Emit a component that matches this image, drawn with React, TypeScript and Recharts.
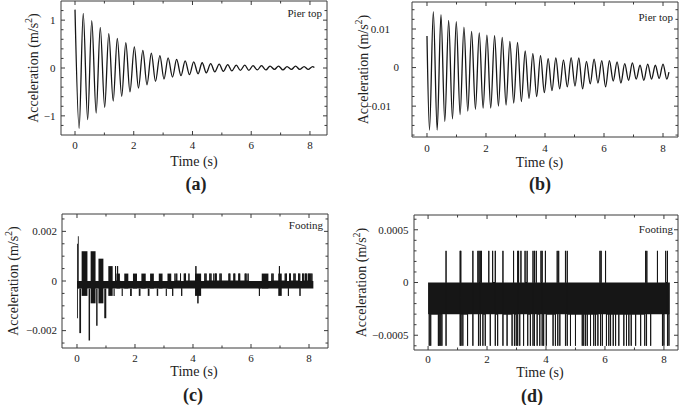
import React from 'react';
import { ComposedChart, Line, XAxis, YAxis, ReferenceArea } from 'recharts';

// ---------- values ----------
const timeTicks = [0, 1, 2, 3, 4, 5, 6, 7, 8];
const timeMajor = [0, 2, 4, 6, 8];
const timeLabels = ['0', '2', '4', '6', '8'];

// (a) pier top, peaks and troughs of the decaying response
const aTime = [0, 0.14, 0.28, 0.43, 0.57, 0.72, 0.86, 1.01, 1.15, 1.3, 1.44, 1.59, 1.73, 1.87, 2.02, 2.16, 2.31, 2.45, 2.6, 2.74, 2.89, 3.03, 3.17, 3.32, 3.46, 3.61, 3.75, 3.9, 4.04, 4.19, 4.33, 4.47, 4.62, 4.76, 4.91, 5.05, 5.2, 5.34, 5.49, 5.63, 5.78, 5.92, 6.06, 6.21, 6.35, 6.5, 6.64, 6.79, 6.93, 7.08, 7.22, 7.37, 7.51, 7.65, 7.8, 7.94, 8.09, 8.15];
const aAccel = [1.22, -1.26, 1.14, -1.08, 0.99, -0.94, 0.85, -0.82, 0.72, -0.69, 0.62, -0.59, 0.53, -0.5, 0.44, -0.42, 0.37, -0.35, 0.31, -0.28, 0.26, -0.23, 0.21, -0.19, 0.18, -0.16, 0.15, -0.14, 0.13, -0.12, 0.11, -0.1, 0.09, -0.08, 0.08, -0.07, 0.07, -0.06, 0.06, -0.05, 0.06, -0.05, 0.05, -0.04, 0.05, -0.04, 0.04, -0.03, 0.04, -0.04, 0.03, -0.03, 0.04, -0.03, 0.03, -0.03, 0.03, 0.01];
const aYTicks = [-1.2, -1, -0.8, -0.6, -0.4, -0.2, 0, 0.2, 0.4, 0.6, 0.8, 1, 1.2];
const aYMajor = [-1, 0, 1];
const aYLabels = ['\u22121', '0', '1'];

// (b) pier top
const bTime = [0, 0.085, 0.215, 0.345, 0.474, 0.604, 0.734, 0.864, 0.993, 1.123, 1.253, 1.383, 1.512, 1.642, 1.772, 1.902, 2.031, 2.161, 2.291, 2.421, 2.55, 2.68, 2.81, 2.94, 3.069, 3.199, 3.329, 3.459, 3.588, 3.718, 3.848, 3.978, 4.107, 4.237, 4.367, 4.497, 4.626, 4.756, 4.886, 5.016, 5.145, 5.275, 5.405, 5.535, 5.664, 5.794, 5.924, 6.054, 6.183, 6.313, 6.443, 6.573, 6.702, 6.832, 6.962, 7.092, 7.221, 7.351, 7.481, 7.611, 7.74, 7.87, 8.0, 8.13, 8.2];
const bAccel = [0.0082, -0.0162, 0.0145, -0.0162, 0.0137, -0.014, 0.0122, -0.0133, 0.0119, -0.0122, 0.0105, -0.0113, 0.0094, -0.0108, 0.009, -0.0105, 0.0084, -0.0105, 0.0083, -0.01, 0.0078, -0.0097, 0.0068, -0.0092, 0.0065, -0.0088, 0.0043, -0.008, 0.0036, -0.0075, 0.0031, -0.0065, 0.0023, -0.006, 0.0025, -0.0055, 0.002, -0.005, 0.0026, -0.0048, 0.0025, -0.0055, 0.0016, -0.0042, 0.0022, -0.004, 0.0018, -0.005, 0.0018, -0.0035, 0.0015, -0.004, 0.001, -0.0033, 0.0012, -0.003, 0.0006, -0.0033, 0.0009, -0.003, 0.0006, -0.0028, 0.0009, -0.003, -0.0012];
const bYTicks = [-0.0175, -0.015, -0.0125, -0.01, -0.0075, -0.005, -0.0025, 0, 0.0025, 0.005, 0.0075, 0.01, 0.0125, 0.015];
const bYMajor = [-0.01, 0, 0.01];
const bYLabels = ['\u22120.01', '0', '0.01'];

// (c) footing: quantised record, dense parts as [t0, t1, low, high]
const cBand = [[0, 8.15, -0.0003, 0]];
const cBlocks = [
  [0.0, 0.03, -0.0015, 0.0015],
  [0.03, 0.06, -0.0003, 0.0018],
  [0.08, 0.14, -0.0021, -0.0003],
  [0.16, 0.36, -0.0006, 0.0012],
  [0.4, 0.45, -0.0024, -0.0003],
  [0.47, 0.64, -0.0009, 0.0012],
  [0.66, 0.71, -0.0018, -0.0003],
  [0.74, 0.91, -0.0009, 0.0009],
  [0.94, 1.01, -0.0015, -0.0003],
  [1.08, 1.23, -0.0006, 0.0006],
  [1.26, 1.3, -0.0006, -0.0003],
  [1.36, 1.48, -0.0003, 0.0003],
  [1.54, 1.58, -0.0006, -0.0003],
  [1.63, 1.77, -0.0003, 0.0003],
  [1.83, 1.89, -0.0006, -0.0003],
  [1.93, 2.07, -0.0003, 0.0003],
  [2.13, 2.19, -0.0006, -0.0003],
  [2.22, 2.37, -0.0003, 0.0003],
  [2.44, 2.5, -0.0006, -0.0003],
  [2.52, 2.65, -0.0003, 0.0003],
  [2.75, 2.8, -0.0006, -0.0003],
  [2.82, 2.95, -0.0003, 0.0003],
  [3.06, 3.1, -0.0006, -0.0003],
  [3.12, 3.25, -0.0003, 0.0003],
  [4.07, 4.28, -0.0006, 0.0003],
  [6.37, 6.6, -0.0003, 0.0003],
  [6.94, 7.06, -0.0006, 0.0003],
];
// isolated spikes: [time, tip value]
const cSpikes = [
  [1.33, 0.0006], [1.4, 0.0006], [3.3, -0.0006], [3.38, 0.0003], [3.44, 0.0003], [3.57, 0.0003],
  [3.61, -0.0006], [3.7, 0.0003], [3.74, 0.0003], [3.86, 0.0003], [4.1, 0.0006], [4.17, -0.0009],
  [4.41, 0.0003], [4.45, 0.0003], [4.58, 0.0003], [4.62, 0.0003], [4.72, 0.0003], [4.78, 0.0003],
  [4.8, 0.0003], [4.93, 0.0003], [4.97, 0.0003], [5.24, 0.0003], [5.27, 0.0003], [5.41, 0.0003],
  [5.44, 0.0003], [5.58, 0.0003], [5.61, 0.0003], [5.8, 0.0003], [5.83, 0.0003], [5.9, 0.0003],
  [6.29, -0.0006], [6.72, 0.0003], [6.76, 0.0003], [6.98, 0.0006], [7.18, 0.0003], [7.22, 0.0003],
  [7.29, -0.0006], [7.33, 0.0003], [7.36, 0.0003], [7.48, 0.0003], [7.52, 0.0003], [7.64, 0.0003],
  [7.68, 0.0003], [7.69, -0.0006], [7.78, 0.0003], [7.82, 0.0003], [7.88, 0.0003], [7.92, 0.0003],
  [7.98, 0.0003], [8.02, 0.0003], [8.06, 0.0003], [8.1, 0.0003],
];
const cYTicks = [-0.0025, -0.002, -0.0015, -0.001, -0.0005, 0, 0.0005, 0.001, 0.0015, 0.002, 0.0025];
const cYMajor = [-0.002, 0, 0.002];
const cYLabels = ['\u22120.002', '0', '0.002'];

// (d) footing
const dBand = [[0, 8.2, -0.0003, 0]];
const dUpTimes = [0.61, 1.09, 1.11, 1.52, 1.69, 1.73, 1.77, 1.81, 2.06, 2.19, 2.28, 2.54, 2.9, 3.04, 3.07, 3.15, 3.29, 3.36, 3.56, 3.61, 3.67, 3.83, 3.87, 3.98, 4.38, 4.43, 4.66, 4.72, 5.83, 5.87, 6.02, 7.38, 7.42, 7.78, 8.06, 8.12];
const dDownTimes = [0.04, 0.09, 0.35, 0.38, 0.43, 0.47, 0.61, 1.09, 1.12, 1.18, 1.34, 1.52, 1.71, 1.77, 1.86, 1.94, 2.11, 2.28, 2.36, 2.54, 2.68, 2.85, 2.93, 2.99, 3.04, 3.11, 3.24, 3.38, 3.47, 3.56, 3.61, 3.7, 3.79, 3.87, 3.92, 4.01, 4.24, 4.32, 4.4, 4.47, 4.66, 4.72, 4.83, 5.0, 5.23, 5.28, 5.34, 5.4, 5.51, 5.62, 5.68, 5.76, 5.85, 5.91, 6.05, 6.13, 6.19, 6.28, 6.36, 6.47, 6.64, 6.73, 6.81, 6.89, 7.04, 7.21, 7.35, 7.41, 7.55, 7.95, 8.0, 8.12, 8.17];
const dUpTip = 0.0003;
const dDownTip = -0.0006;
const dYTicks = [-0.0006, -0.0005, -0.0004, -0.0003, -0.0002, -0.0001, 0, 0.0001, 0.0002, 0.0003, 0.0004, 0.0005, 0.0006];
const dYMajor = [-0.0005, 0, 0.0005];
const dYLabels = ['\u22120.0005', '0', '0.0005'];

// ---------- helpers ----------
const FONT = "'Liberation Serif', 'Times New Roman', serif";
const INK = '#161616';
const FRAME = '#3a3a3a';

const toSeries = (ts: number[], vs: number[]) => ts.map((t, i) => ({ t, v: vs[i] }));

// each spike goes up/down from the edge of the dense band and back
const spikePoints = (events: number[][]) =>
  [...events]
    .sort((p, q) => p[0] - q[0])
    .flatMap(([t, tip]) => {
      const base = tip > 0 ? 0 : -0.0003;
      return [{ t, v: base }, { t, v: tip }, { t, v: base }];
    });

const cPoints = spikePoints(cSpikes);
const dPoints = spikePoints([
  ...dUpTimes.map((t) => [t, dUpTip]),
  ...dDownTimes.map((t) => [t, dDownTip]),
]);

const idx = (arr: number[], v: number) => arr.findIndex((m) => Math.abs(m - v) < 1e-9);

function makeTick(side: string, majors: number[], labels: string[], gaps: number[], dy: number) {
  return (props: any) => {
    const { x, y, payload } = props;
    const i = idx(majors, payload.value);
    const len = i >= 0 ? 4 : 2.5;
    const txt = { fontFamily: FONT, fontSize: 11, fill: '#222' };
    if (side === 'bottom') {
      return (
        <g>
          <line x1={x} y1={y} x2={x} y2={y - len} stroke={FRAME} />
          {i >= 0 && (
            <text x={x} y={y + dy} textAnchor="middle" {...txt}>
              {labels[i]}
            </text>
          )}
        </g>
      );
    }
    if (side === 'top') return <line x1={x} y1={y} x2={x} y2={y + len} stroke={FRAME} />;
    if (side === 'left') {
      return (
        <g>
          <line x1={x} y1={y} x2={x + len} y2={y} stroke={FRAME} />
          {i >= 0 && (
            <text x={x - gaps[i]} y={y + 3.8} textAnchor="end" {...txt}>
              {labels[i]}
            </text>
          )}
        </g>
      );
    }
    return <line x1={x} y1={y} x2={x - len} y2={y} stroke={FRAME} />;
  };
}

const Titles = ({ cfg }: any) => {
  const cy = (cfg.frame[2] + cfg.frame[3]) / 2;
  return (
    <g fontFamily={FONT} fill="#222">
      <text x={cfg.timeX} y={cfg.timeY} textAnchor="middle" fontSize={14}>
        Time (s)
      </text>
      <text x={cfg.capX} y={cfg.capY} textAnchor="middle" fontSize={18} fontWeight="bold">
        {cfg.caption}
      </text>
      <text x={cfg.noteX} y={cfg.noteY} textAnchor="end" fontSize={11}>
        {cfg.note}
      </text>
      <text
        x={cfg.yTitleX}
        y={cy}
        textAnchor="middle"
        fontSize={14}
        transform={`rotate(-90 ${cfg.yTitleX} ${cy})`}
      >
        Acceleration (m/s
        <tspan dy={-6} fontSize={10}>
          2
        </tspan>
        <tspan dy={6}>)</tspan>
      </text>
    </g>
  );
};

const AX = 1; // thickness given to every axis box

function Panel({ cfg, data, children }: any) {
  const [fx0, fx1, fy0, fy1] = cfg.frame;
  const axisLine = { stroke: FRAME, strokeWidth: 1 };
  return (
    <div style={{ position: 'absolute', left: cfg.left, top: cfg.top }}>
      <ComposedChart
        width={cfg.w}
        height={cfg.h}
        data={data}
        margin={{ left: fx0 - AX, right: cfg.w - fx1 - AX, top: fy0 - AX, bottom: cfg.h - fy1 - AX }}
      >
        <XAxis
          xAxisId="b"
          dataKey="t"
          type="number"
          domain={cfg.xDomain}
          allowDataOverflow
          ticks={timeTicks}
          interval={0}
          height={AX}
          tickSize={0}
          tickMargin={0}
          tickLine={false}
          axisLine={axisLine}
          tick={makeTick('bottom', timeMajor, timeLabels, [], cfg.xDy)}
          label={<Titles cfg={cfg} />}
        />
        <XAxis
          xAxisId="t"
          orientation="top"
          dataKey="t"
          type="number"
          domain={cfg.xDomain}
          allowDataOverflow
          ticks={timeTicks}
          interval={0}
          height={AX}
          tickSize={0}
          tickMargin={0}
          tickLine={false}
          axisLine={axisLine}
          tick={makeTick('top', timeMajor, timeLabels, [], 0)}
        />
        <YAxis
          yAxisId="l"
          type="number"
          domain={cfg.yDomain}
          allowDataOverflow
          ticks={cfg.yTicks}
          interval={0}
          width={AX}
          tickSize={0}
          tickMargin={0}
          tickLine={false}
          axisLine={axisLine}
          tick={makeTick('left', cfg.yMajor, cfg.yLabels, cfg.yGaps, 0)}
        />
        <YAxis
          yAxisId="r"
          orientation="right"
          type="number"
          domain={cfg.yDomain}
          allowDataOverflow
          ticks={cfg.yTicks}
          interval={0}
          width={AX}
          tickSize={0}
          tickMargin={0}
          tickLine={false}
          axisLine={axisLine}
          tick={makeTick('right', cfg.yMajor, cfg.yLabels, cfg.yGaps, 0)}
        />
        {children}
      </ComposedChart>
    </div>
  );
}

const cfgA = {
  left: 0, top: 0, w: 345, h: 200, frame: [61, 327, 1, 135],
  xDomain: [-0.477, 8.58], yDomain: [-1.4, 1.4],
  yTicks: aYTicks, yMajor: aYMajor, yLabels: aYLabels, yGaps: [5.5, 5.5, 5.5],
  xDy: 14, yTitleX: 38, timeX: 194, timeY: 166, capX: 196, capY: 190, caption: '(a)',
  noteX: 322, noteY: 16.5, note: 'Pier top',
};
const cfgB = {
  left: 345, top: 0, w: 340, h: 200, frame: [67, 333, 2, 137],
  xDomain: [-0.508, 8.508], yDomain: [-0.018, 0.017],
  yTicks: bYTicks, yMajor: bYMajor, yLabels: bYLabels, yGaps: [21, 13, 22],
  xDy: 15, yTitleX: 23, timeX: 194.5, timeY: 166.5, capX: 195, capY: 190, caption: '(b)',
  noteX: 328, noteY: 20.5, note: 'Pier top',
};
const cfgC = {
  left: 0, top: 200, w: 345, h: 205, frame: [62, 328, 14, 148],
  xDomain: [-0.517, 8.655], yDomain: [-0.0027, 0.0027],
  yTicks: cYTicks, yMajor: cYMajor, yLabels: cYLabels, yGaps: [5, 5, 5],
  xDy: 14, yTitleX: 18, timeX: 194, timeY: 176, capX: 193, capY: 201, caption: '(c)',
  noteX: 323, noteY: 29, note: 'Footing',
};
const cfgD = {
  left: 345, top: 200, w: 340, h: 205, frame: [69, 333, 15, 150],
  xDomain: [-0.477, 8.477], yDomain: [-0.00064, 0.00064],
  yTicks: dYTicks, yMajor: dYMajor, yLabels: dYLabels, yGaps: [5.5, 5.5, 5.5],
  xDy: 13, yTitleX: 21, timeX: 195, timeY: 177, capX: 187, capY: 202, caption: '(d)',
  noteX: 328, noteY: 33, note: 'Footing',
};

const blockAreas = (rows: number[][], key: string) =>
  rows.map(([t0, t1, lo, hi], i) => (
    <ReferenceArea
      key={`${key}${i}`}
      xAxisId="b"
      yAxisId="l"
      x1={t0}
      x2={t1}
      y1={lo}
      y2={hi}
      fill={INK}
      fillOpacity={1}
      stroke="none"
      ifOverflow="visible"
    />
  ));

export default function App() {
  return (
    <div style={{ position: 'absolute', left: 0, top: 0, width: 685, height: 405, background: '#fff' }}>
      <Panel cfg={cfgA} data={toSeries(aTime, aAccel)}>
        <Line xAxisId="b" yAxisId="l" type="monotone" dataKey="v" stroke={INK} strokeWidth={1.3} dot={false} activeDot={false} isAnimationActive={false} />
      </Panel>
      <Panel cfg={cfgB} data={toSeries(bTime, bAccel)}>
        <Line xAxisId="b" yAxisId="l" type="monotone" dataKey="v" stroke={INK} strokeWidth={1.3} dot={false} activeDot={false} isAnimationActive={false} />
      </Panel>
      <Panel cfg={cfgC} data={cPoints}>
        {blockAreas(cBand, 'cb')}
        {blockAreas(cBlocks, 'ck')}
        <Line xAxisId="b" yAxisId="l" type="linear" dataKey="v" stroke={INK} strokeWidth={1} dot={false} activeDot={false} isAnimationActive={false} />
      </Panel>
      <Panel cfg={cfgD} data={dPoints}>
        {blockAreas(dBand, 'db')}
        <Line xAxisId="b" yAxisId="l" type="linear" dataKey="v" stroke={INK} strokeWidth={1} dot={false} activeDot={false} isAnimationActive={false} />
      </Panel>
    </div>
  );
}
